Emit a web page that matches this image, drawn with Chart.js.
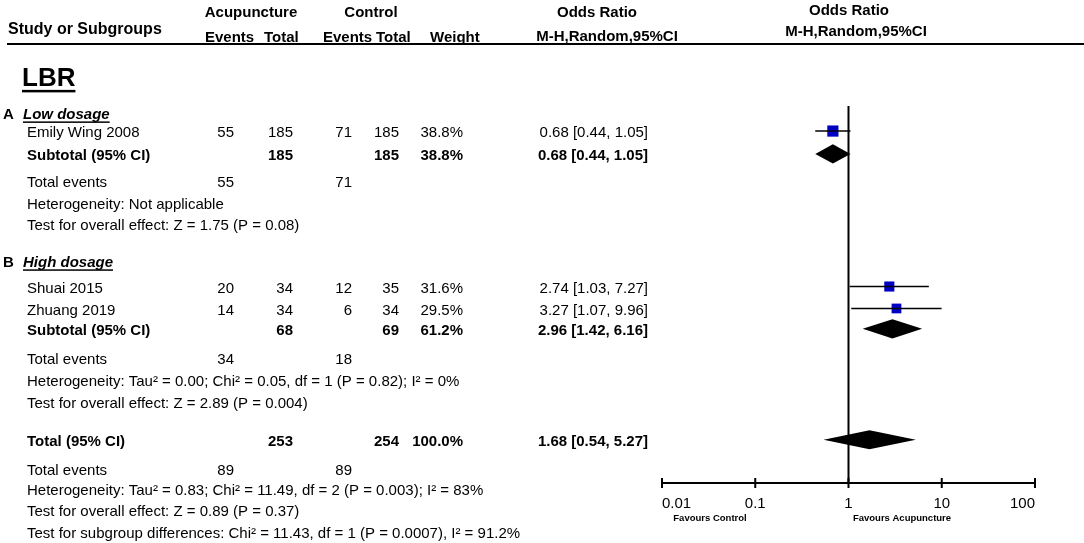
<!DOCTYPE html>
<html><head><meta charset="utf-8">
<script src="https://cdn.jsdelivr.net/npm/chart.js@4/dist/chart.umd.min.js"></script>
<style>html,body{margin:0;padding:0;background:#fff}canvas{display:block}</style>
</head><body>
<canvas id="c" width="1084" height="543"></canvas>
<script>
// ---- data ----
const studies = ['Emily Wing 2008', 'Shuai 2015', 'Zhuang 2019'];
const studyGroup = [0, 1, 1];
const acuEvents = [55, 20, 14];
const acuTotal = [185, 34, 34];
const ctlEvents = [71, 12, 6];
const ctlTotal = [185, 35, 34];
const weights = [38.8, 31.6, 29.5];
const oddsRatio = [0.68, 2.74, 3.27];
const ciLow = [0.44, 1.03, 1.07];
const ciHigh = [1.05, 7.27, 9.96];

const groupLetters = ['A', 'B'];
const groupNames = ['Low dosage', 'High dosage'];
const subAcuTotal = [185, 68];
const subCtlTotal = [185, 69];
const subAcuEvents = [55, 34];
const subCtlEvents = [71, 18];
const subWeight = [38.8, 61.2];
const subOR = [0.68, 2.96];
const subLow = [0.44, 1.42];
const subHigh = [1.05, 6.16];
const subHetero = ['Heterogeneity: Not applicable', 'Heterogeneity: Tau\u00b2 = 0.00; Chi\u00b2 = 0.05, df = 1 (P = 0.82); I\u00b2 = 0%'];
const subTest = ['Test for overall effect: Z = 1.75 (P = 0.08)', 'Test for overall effect: Z = 2.89 (P = 0.004)'];

const totAcuTotal = 253, totCtlTotal = 254, totWeight = 100.0;
const totOR = 1.68, totLow = 0.54, totHigh = 5.27;
const totAcuEvents = 89, totCtlEvents = 89;
const totHetero = 'Heterogeneity: Tau\u00b2 = 0.83; Chi\u00b2 = 11.49, df = 2 (P = 0.003); I\u00b2 = 83%';
const totTest = 'Test for overall effect: Z = 0.89 (P = 0.37)';
const subgroupTest = 'Test for subgroup differences: Chi\u00b2 = 11.43, df = 1 (P = 0.0007), I\u00b2 = 91.2%';

const tickValues = [0.01, 0.1, 1, 10, 100];
const tickLabels = ['0.01', '0.1', '1', '10', '100'];

// row positions (in row units of the vertical scale)
const studyRows = [1.13, 8.14, 9.13];
const groupHeadRows = [0.32, 6.99];
const subRows = [2.16, 10.05];
const subEventRows = [3.36, 11.34];
const subHetRows = [4.35, 12.33];
const subTestRows = [5.3, 13.32];
const totRow = 15.05, totEventRow = 16.34, totHetRow = 17.26, totTestRow = 18.2, subgroupTestRow = 19.22;
const titleRow = -1.31;

// ---- datasets ----
const datasets = [];
datasets.push({type: 'line', data: [{x: 1, y: 0}, {x: 1, y: 17}], borderColor: '#000', borderWidth: 2, pointRadius: 0});
studies.forEach((s, i) => {
  datasets.push({type: 'line', data: [{x: ciLow[i], y: studyRows[i]}, {x: ciHigh[i], y: studyRows[i]}],
    borderColor: '#000', borderWidth: 1.6, pointRadius: 0});
});
datasets.push({type: 'scatter', data: studies.map((s, i) => ({x: oddsRatio[i], y: studyRows[i]})),
  pointStyle: 'rect', pointRadius: weights.map(w => 1.27 * Math.sqrt(w)),
  backgroundColor: '#0000c4', borderColor: '#0000c4', borderWidth: 0});

const FONT = '"Liberation Sans", Arial, sans-serif';
const TEXT_SHIFT = 2;
function txt(ctx, t, x, y, opt) {
  opt = opt || {};
  ctx.font = (opt.style || '') + ' ' + (opt.weight || 'normal') + ' ' + (opt.size || 15) + 'px ' + FONT;
  ctx.textAlign = opt.align || 'left';
  ctx.textBaseline = 'middle';
  ctx.fillStyle = '#000';
  ctx.fillText(t, x, y);
  if (opt.underline) {
    const w = ctx.measureText(t).width;
    let x0 = x;
    if (ctx.textAlign === 'right') x0 = x - w; else if (ctx.textAlign === 'center') x0 = x - w / 2;
    const sz = opt.size || 15;
    ctx.fillRect(x0, y + sz * 0.42, w, opt.ulw || 1.5);
  }
}
const fmt2 = v => v.toFixed(2);
const orText = (o, l, h) => fmt2(o) + ' [' + fmt2(l) + ', ' + fmt2(h) + ']';

const COL = {name: 27, acuEv: 234, acuTot: 293, ctlEv: 352, ctlTot: 399, weight: 463, or: 648};

const forestPlugin = {
  id: 'forest',
  afterDatasetsDraw(chart) {
    const ctx = chart.ctx, xs = chart.scales.x, ys = chart.scales.y;
    ctx.save();
    ctx.fillStyle = '#000';
    const hh = 0.43;
    const diamonds = subOR.map((o, i) => [o, subLow[i], subHigh[i], subRows[i]]);
    diamonds.push([totOR, totLow, totHigh, totRow]);
    diamonds.forEach(d => {
      ctx.beginPath();
      ctx.moveTo(xs.getPixelForValue(d[1]), ys.getPixelForValue(d[3]));
      ctx.lineTo(xs.getPixelForValue(d[0]), ys.getPixelForValue(d[3] - hh));
      ctx.lineTo(xs.getPixelForValue(d[2]), ys.getPixelForValue(d[3]));
      ctx.lineTo(xs.getPixelForValue(d[0]), ys.getPixelForValue(d[3] + hh));
      ctx.closePath();
      ctx.fill();
    });
    // axis tick marks
    const yb = xs.top;
    ctx.strokeStyle = '#000';
    ctx.lineWidth = 2;
    tickValues.forEach(v => {
      const px = xs.getPixelForValue(v);
      ctx.beginPath(); ctx.moveTo(px, yb - 5); ctx.lineTo(px, yb + 5); ctx.stroke();
    });
    ctx.restore();
  },
  afterDraw(chart) {
    const ctx = chart.ctx, ys = chart.scales.y;
    const Y = v => ys.getPixelForValue(v) + TEXT_SHIFT;
    ctx.save();
    const B = {weight: 'bold'};
    // header
    txt(ctx, 'Study or Subgroups', 8, 30, {weight: 'bold', size: 16});
    txt(ctx, 'Acupuncture', 251, 13, {weight: 'bold', align: 'center'});
    txt(ctx, 'Control', 371, 13, {weight: 'bold', align: 'center'});
    txt(ctx, 'Events', 205, 38, B);
    txt(ctx, 'Total', 264, 38, B);
    txt(ctx, 'Events', 323, 38, B);
    txt(ctx, 'Total', 376, 38, B);
    txt(ctx, 'Weight', 430, 38, B);
    txt(ctx, 'Odds Ratio', 597, 13, {weight: 'bold', align: 'center'});
    txt(ctx, 'M-H,Random,95%CI', 607, 37, {weight: 'bold', align: 'center'});
    txt(ctx, 'Odds Ratio', 849, 11, {weight: 'bold', align: 'center'});
    txt(ctx, 'M-H,Random,95%CI', 856, 32, {weight: 'bold', align: 'center'});
    ctx.fillStyle = '#000';
    ctx.fillRect(7, 43, 1077, 2);
    // title
    txt(ctx, 'LBR', 22, Y(titleRow), {weight: 'bold', size: 26, underline: true, ulw: 2.5});
    // groups
    groupLetters.forEach((g, gi) => {
      const gy = Y(groupHeadRows[gi]);
      txt(ctx, g, 3, gy, B);
      txt(ctx, groupNames[gi], 23, gy, {weight: 'bold', style: 'italic', underline: true});
      studies.forEach((s, i) => {
        if (studyGroup[i] !== gi) return;
        const y = Y(studyRows[i]);
        txt(ctx, s, COL.name, y);
        txt(ctx, String(acuEvents[i]), COL.acuEv, y, {align: 'right'});
        txt(ctx, String(acuTotal[i]), COL.acuTot, y, {align: 'right'});
        txt(ctx, String(ctlEvents[i]), COL.ctlEv, y, {align: 'right'});
        txt(ctx, String(ctlTotal[i]), COL.ctlTot, y, {align: 'right'});
        txt(ctx, weights[i].toFixed(1) + '%', COL.weight, y, {align: 'right'});
        txt(ctx, orText(oddsRatio[i], ciLow[i], ciHigh[i]), COL.or, y, {align: 'right'});
      });
      const sy = Y(subRows[gi]);
      txt(ctx, 'Subtotal (95% CI)', COL.name, sy, B);
      txt(ctx, String(subAcuTotal[gi]), COL.acuTot, sy, {weight: 'bold', align: 'right'});
      txt(ctx, String(subCtlTotal[gi]), COL.ctlTot, sy, {weight: 'bold', align: 'right'});
      txt(ctx, subWeight[gi].toFixed(1) + '%', COL.weight, sy, {weight: 'bold', align: 'right'});
      txt(ctx, orText(subOR[gi], subLow[gi], subHigh[gi]), COL.or, sy, {weight: 'bold', align: 'right'});
      const ey = Y(subEventRows[gi]);
      txt(ctx, 'Total events', COL.name, ey);
      txt(ctx, String(subAcuEvents[gi]), COL.acuEv, ey, {align: 'right'});
      txt(ctx, String(subCtlEvents[gi]), COL.ctlEv, ey, {align: 'right'});
      txt(ctx, subHetero[gi], COL.name, Y(subHetRows[gi]));
      txt(ctx, subTest[gi], COL.name, Y(subTestRows[gi]));
    });
    // overall
    const ty = Y(totRow);
    txt(ctx, 'Total (95% CI)', COL.name, ty, B);
    txt(ctx, String(totAcuTotal), COL.acuTot, ty, {weight: 'bold', align: 'right'});
    txt(ctx, String(totCtlTotal), COL.ctlTot, ty, {weight: 'bold', align: 'right'});
    txt(ctx, totWeight.toFixed(1) + '%', COL.weight, ty, {weight: 'bold', align: 'right'});
    txt(ctx, orText(totOR, totLow, totHigh), COL.or, ty, {weight: 'bold', align: 'right'});
    const tey = Y(totEventRow);
    txt(ctx, 'Total events', COL.name, tey);
    txt(ctx, String(totAcuEvents), COL.acuEv, tey, {align: 'right'});
    txt(ctx, String(totCtlEvents), COL.ctlEv, tey, {align: 'right'});
    txt(ctx, totHetero, COL.name, Y(totHetRow));
    txt(ctx, totTest, COL.name, Y(totTestRow));
    txt(ctx, subgroupTest, COL.name, Y(subgroupTestRow));
    // favours
    txt(ctx, 'Favours Control', 710, 518, {weight: 'bold', size: 9.5, align: 'center'});
    txt(ctx, 'Favours Acupuncture', 902, 518, {weight: 'bold', size: 9.5, align: 'center'});
    ctx.restore();
  }
};

new Chart(document.getElementById('c'), {
  type: 'scatter',
  data: {datasets},
  options: {
    responsive: false,
    animation: false,
    layout: {padding: {left: 662, right: 49, top: 106, bottom: 0}},
    plugins: {legend: {display: false}, tooltip: {enabled: false}},
    scales: {
      x: {
        type: 'logarithmic', min: 0.01, max: 100, position: 'bottom',
        afterBuildTicks: s => { s.ticks = tickValues.map(v => ({value: v})); },
        afterFit: s => { s.height = 60; },
        grid: {display: false},
        border: {display: true, color: '#000', width: 2},
        ticks: {
          align: 'inner', padding: 4, color: '#000', maxRotation: 0, autoSkip: false,
          font: {family: FONT, size: 15},
          callback: (v) => { const i = tickValues.indexOf(v); return i >= 0 ? tickLabels[i] : ''; }
        }
      },
      y: {type: 'linear', min: 0, max: 17, reverse: true, display: false}
    }
  },
  plugins: [forestPlugin]
});
</script>
</body></html>
